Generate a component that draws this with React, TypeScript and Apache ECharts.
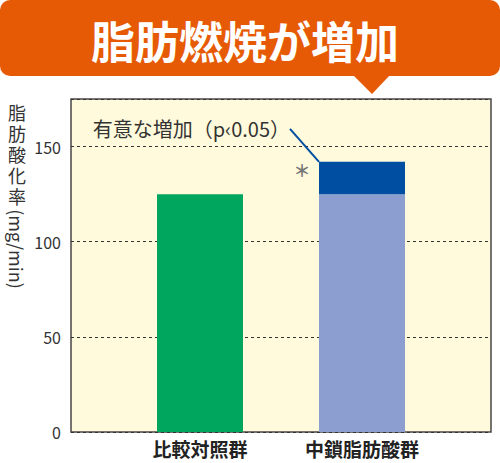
// 中鎖脂肪酸群と比較対照群の脂肪酸化率を比べる積み上げ棒グラフ。
// 上のオレンジの吹き出しと縦書きの軸名は graphic で描く。
import { useEffect, useRef } from 'react'
import * as echarts from 'echarts'

const CATEGORIES = ['比較対照群', '中鎖脂肪酸群']
const BASE_VALUES = [125, 125]
const INCREASE_VALUES: (number | string)[] = ['-', 17]
const Y_TICKS = [0, 50, 100, 150]

const TITLE = '脂肪燃焼が増加'
const Y_NAME_CJK = ['脂', '肪', '酸', '化', '率']
const Y_NAME_UNIT = '(mg/min)'
const NOTE = '有意な増加（p‹0.05）'

const BASE_COLORS = ['#00A65E', '#8C9DCF']
const INCREASE_COLOR = '#004EA2'
const ORANGE = '#E65A05'
const FONT = '"Noto Sans CJK JP", "Noto Sans", sans-serif'

export default function App() {
  const ref = useRef<HTMLDivElement>(null)

  useEffect(() => {
    document.body.style.margin = '0'
    if (!ref.current) return
    const chart = echarts.init(ref.current, undefined, { renderer: 'svg' })

    chart.setOption({
      animation: false,
      textStyle: { fontFamily: FONT },
      grid: [
        // 背景と点線
        { left: 71, top: 99, width: 420, height: 333, show: true, backgroundColor: '#FFFADC', borderColor: '#4A4545', borderWidth: 1.5 },
        // 棒
        { left: 119, top: 99, width: 324, height: 333 },
      ],
      xAxis: [
        { gridIndex: 0, type: 'category', data: [''], show: false },
        {
          gridIndex: 1,
          type: 'category',
          data: CATEGORIES,
          axisLine: { show: false },
          axisTick: { show: false },
          axisLabel: { margin: 7, fontSize: 19, lineHeight: 19, fontWeight: 'bold', color: '#222', fontFamily: FONT },
        },
      ],
      yAxis: [
        {
          gridIndex: 0,
          type: 'value',
          min: 0,
          max: 175,
          interval: 50,
          axisLine: { show: false },
          axisTick: { show: false },
          axisLabel: {
            margin: 10,
            fontSize: 16,
            color: '#333',
            showMaxLabel: false,
            formatter: (v: number) => (Y_TICKS.includes(v) ? String(v) : ''),
          },
          splitLine: { lineStyle: { color: '#333', width: 1, type: [3, 3] } },
        },
        { gridIndex: 1, type: 'value', min: 0, max: 175, show: false },
      ],
      series: [
        {
          type: 'bar',
          xAxisIndex: 1,
          yAxisIndex: 1,
          stack: 'total',
          barWidth: 86,
          data: BASE_VALUES.map((v, i) => ({ value: v, itemStyle: { color: BASE_COLORS[i] } })),
        },
        {
          type: 'bar',
          xAxisIndex: 1,
          yAxisIndex: 1,
          stack: 'total',
          barWidth: 86,
          itemStyle: { color: INCREASE_COLOR },
          data: INCREASE_VALUES,
        },
      ],
    })

    // 有意差のある棒の左上の角
    const idx = INCREASE_VALUES.findIndex((v) => v !== '-')
    const top = BASE_VALUES[idx] + (INCREASE_VALUES[idx] as number)
    const [cx, cy] = chart.convertToPixel({ xAxisIndex: 1, yAxisIndex: 1 }, [CATEGORIES[idx], top]) as number[]
    const cornerX = cx - 43

    const yNameChars = Y_NAME_CJK.map((ch, i) => ({
      type: 'text',
      x: 17,
      y: 112 + i * 21,
      style: { text: ch, fill: '#333', fontSize: 18, lineHeight: 18, fontFamily: FONT, align: 'center', verticalAlign: 'middle' },
    }))

    chart.setOption({
      graphic: [
        { type: 'rect', shape: { x: 0, y: 0, width: 500, height: 76, r: 10 }, style: { fill: ORANGE } },
        { type: 'polygon', shape: { points: [[353, 75], [390, 75], [372, 94]] }, style: { fill: ORANGE } },
        {
          type: 'text',
          x: 245,
          y: 40,
          style: { text: TITLE, fill: '#fff', fontSize: 44, fontWeight: 'bold', fontFamily: FONT, align: 'center', verticalAlign: 'middle' },
        },
        ...yNameChars,
        {
          type: 'text',
          x: 17,
          y: 249,
          rotation: -Math.PI / 2,
          style: { text: Y_NAME_UNIT, fill: '#333', fontSize: 18, fontFamily: FONT, align: 'center', verticalAlign: 'middle' },
        },
        {
          type: 'text',
          x: cornerX - 29,
          y: cy - 33,
          style: { text: NOTE, fill: '#333', fontSize: 20, fontFamily: FONT, align: 'right', verticalAlign: 'middle' },
        },
        {
          type: 'line',
          shape: { x1: cornerX - 29, y1: cy - 33, x2: cornerX, y2: cy },
          style: { stroke: INCREASE_COLOR, lineWidth: 2 },
        },
        {
          type: 'text',
          x: cornerX - 17,
          y: cy + 8,
          style: { text: '＊', fill: '#777', fontSize: 17, fontWeight: 'bold', fontFamily: FONT, align: 'center', verticalAlign: 'middle' },
        },
      ],
    })

    return () => chart.dispose()
  }, [])

  return <div ref={ref} style={{ width: 500, height: 463 }} />
}
